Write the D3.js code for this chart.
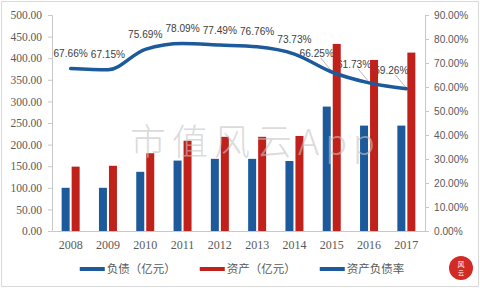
<!DOCTYPE html>
<html>
<head>
<meta charset="utf-8">
<script src="https://cdn.jsdelivr.net/npm/d3@7"></script>
<style>
  html, body { margin: 0; padding: 0; background: #fff; }
  svg { display: block; }
</style>
</head>
<body>
<div id="chart"></div>
<script>
var years = ["2008", "2009", "2010", "2011", "2012", "2013", "2014", "2015", "2016", "2017"];
var debt = [100, 100, 137, 163, 167, 167, 162, 288, 244, 244];
var assets = [149, 151, 180, 209, 218, 218, 220, 433, 396, 413];
var ratio = [0.6766, 0.6715, 0.7569, 0.7809, 0.7749, 0.7676, 0.7373, 0.6625, 0.6173, 0.5926];
var leftTicks = [0, 50, 100, 150, 200, 250, 300, 350, 400, 450, 500];
var rightTicks = [0, 0.1, 0.2, 0.3, 0.4, 0.5, 0.6, 0.7, 0.8, 0.9];
var legendNames = ["负债（亿元）", "资产（亿元）", "资产负债率"];

var width = 480,
  height = 288;

var blue = "#1d5a9b",
  red = "#c0221b",
  axisGray = "#c8c8c8",
  textGray = "#595959";

var svg = d3.select("#chart")
  .append("svg")
  .attr("width", width)
  .attr("height", height);

// outer frame
svg.append("rect")
  .attr("x", 1.5).attr("y", 1.5)
  .attr("width", width - 3).attr("height", height - 3)
  .attr("fill", "#fff")
  .attr("stroke", "#d9d9d9");

var plot = { left: 52, right: 425, top: 15, bottom: 231 };

var x = d3.scaleBand()
  .domain(years)
  .range([plot.left, plot.right]);

var yLeft = d3.scaleLinear()
  .domain([0, 500])
  .range([plot.bottom, plot.top]);

var yRight = d3.scaleLinear()
  .domain([0, 0.9])
  .range([plot.bottom, plot.top]);

var cx = function(i) { return x(years[i]) + x.bandwidth() / 2; };

// axes
var leftAxis = svg.append("g")
  .attr("transform", "translate(" + plot.left + ",0)")
  .call(d3.axisLeft(yLeft).tickValues(leftTicks).tickFormat(d3.format(".2f")).tickSize(4).tickPadding(6));

var rightAxis = svg.append("g")
  .attr("transform", "translate(" + plot.right + ",0)")
  .call(d3.axisRight(yRight).tickValues(rightTicks).tickFormat(d3.format(".2%")).tickSize(4).tickPadding(5));

var bottomAxis = svg.append("g")
  .attr("transform", "translate(0," + plot.bottom + ")")
  .call(d3.axisBottom(x).tickSize(0).tickPadding(9));

[leftAxis, rightAxis, bottomAxis].forEach(function(g) {
  g.selectAll("path.domain").attr("stroke", axisGray);
  g.selectAll(".tick line").attr("stroke", axisGray);
  g.selectAll("text").attr("fill", textGray);
});
leftAxis.selectAll("text")
  .attr("font-family", "'Liberation Serif', serif")
  .attr("font-size", 11.5);
bottomAxis.selectAll("text")
  .attr("font-family", "'Liberation Serif', serif")
  .attr("font-size", 12);
// the source font is narrow, squeeze the percent labels a bit
rightAxis.selectAll("text")
  .attr("font-family", "'Liberation Sans', sans-serif")
  .attr("font-size", 11.5)
  .each(function() {
    var w = this.getComputedTextLength();
    d3.select(this).attr("textLength", w * 0.88).attr("lengthAdjust", "spacingAndGlyphs");
  });

// data labels go under the bars (the reference has them clipped by bars),
// the last three are pulled up-left with a leader line
function nudge(i) {
  if (i >= 7) return { dx: -15, dy: -19 };
  return { dx: 0, dy: -15.5 };
}

var labels = svg.append("g");

ratio.forEach(function(d, i) {
  var n = nudge(i),
    px = cx(i),
    py = yRight(d);
  if (n.dx !== 0) {
    labels.append("line")
      .attr("x1", px + n.dx + 4).attr("y1", py + n.dy + 5)
      .attr("x2", px - 1).attr("y2", py - 2)
      .attr("stroke", "#a6a6a6")
      .attr("stroke-width", 0.8);
  }
  labels.append("text")
    .attr("x", px + n.dx)
    .attr("y", py + n.dy)
    .attr("dy", "0.35em")
    .attr("text-anchor", "middle")
    .attr("font-family", "'Liberation Sans', sans-serif")
    .attr("font-size", 11.5)
    .attr("fill", "#404040")
    .text(d3.format(".2%")(d))
    .each(function() {
      var w = this.getComputedTextLength();
      d3.select(this).attr("textLength", w * 0.88).attr("lengthAdjust", "spacingAndGlyphs");
    });
});

// bars
var barW = 8, gap = 2;

svg.append("g").selectAll("rect")
  .data(debt)
  .enter().append("rect")
  .attr("x", function(d, i) { return x(years[i]) + x.bandwidth() / 2 - gap / 2 - barW; })
  .attr("y", function(d) { return yLeft(d); })
  .attr("width", barW)
  .attr("height", function(d) { return plot.bottom - yLeft(d); })
  .attr("fill", blue);

svg.append("g").selectAll("rect")
  .data(assets)
  .enter().append("rect")
  .attr("x", function(d, i) { return x(years[i]) + x.bandwidth() / 2 + gap / 2; })
  .attr("y", function(d) { return yLeft(d); })
  .attr("width", barW)
  .attr("height", function(d) { return plot.bottom - yLeft(d); })
  .attr("fill", red);

// ratio line
var line = d3.line()
  .x(function(d, i) { return cx(i); })
  .y(function(d) { return yRight(d); })
  .curve(d3.curveMonotoneX);

svg.append("path")
  .datum(ratio)
  .attr("d", line)
  .attr("fill", "none")
  .attr("stroke", blue)
  .attr("stroke-width", 3.5)
  .attr("stroke-linecap", "round");

// watermark sits over the marks, semi transparent
svg.append("text")
  .attr("x", 130)
  .attr("y", 155)
  .attr("font-family", "'Noto Sans CJK SC', sans-serif")
  .attr("font-weight", 300)
  .attr("font-size", 36)
  .attr("letter-spacing", 6)
  .attr("fill", "#c4c4c4")
  .attr("fill-opacity", 0.6)
  .text("市值风云App");

// legend
var legend = svg.append("g");
var swatch = 25, gapIn = 2, gapOut = 24, legendY = 269;
var colors = [blue, red, blue];
var items = legendNames.map(function(name, i) {
  var g = legend.append("g");
  g.append("rect")
    .attr("x", 0).attr("y", legendY - 2)
    .attr("width", swatch).attr("height", 4)
    .attr("fill", colors[i]);
  var t = g.append("text")
    .attr("x", swatch + gapIn)
    .attr("y", legendY)
    .attr("dy", "0.35em")
    .attr("font-family", "'Noto Sans CJK SC', sans-serif")
    .attr("font-size", 11.5)
    .attr("fill", textGray)
    .text(name);
  return { g: g, w: swatch + gapIn + t.node().getComputedTextLength() };
});
var total = d3.sum(items, function(d) { return d.w; }) + gapOut * (items.length - 1);
var lx = 242 - total / 2;
items.forEach(function(it) {
  it.g.attr("transform", "translate(" + lx + ",0)");
  lx += it.w + gapOut;
});

// corner logo
var logo = svg.append("g").attr("transform", "translate(461,268)");
logo.append("circle").attr("r", 12).attr("fill", "#d22b26");
logo.append("text")
  .attr("y", -1)
  .attr("text-anchor", "middle")
  .attr("font-family", "'Noto Sans CJK SC', sans-serif")
  .attr("font-size", 7)
  .attr("fill", "#fff")
  .text("风");
logo.append("text")
  .attr("y", 7)
  .attr("text-anchor", "middle")
  .attr("font-family", "'Noto Sans CJK SC', sans-serif")
  .attr("font-size", 6)
  .attr("fill", "#fff")
  .text("云");
</script>
</body>
</html>
